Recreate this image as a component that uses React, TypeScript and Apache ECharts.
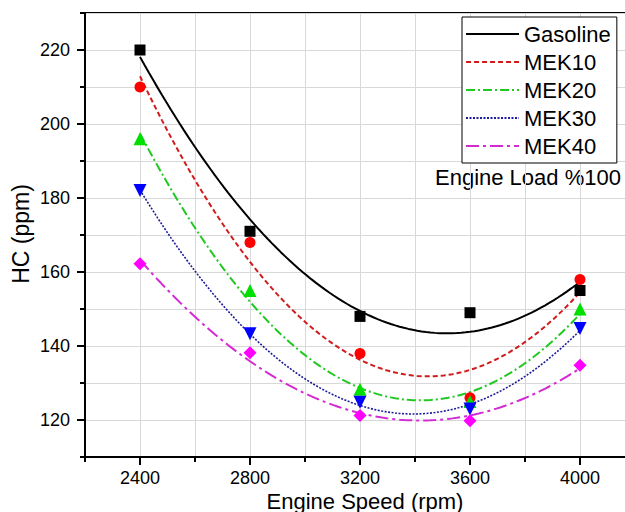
import React, { useEffect, useRef } from 'react';
import * as echarts from 'echarts';

const speeds = [2400, 2800, 3200, 3600, 4000];
const gasoline = [220, 171, 148, 149, 155];
const mek10 = [210, 168, 138, 126, 158];
const mek20 = [196, 155, 128.3, 125, 150];
const mek30 = [182, 143.3, 124.8, 123, 144.7];
const mek40 = [162.2, 138.2, 121.2, 119.8, 134.8];
const seriesNames = ['Gasoline', 'MEK10', 'MEK20', 'MEK30', 'MEK40'];
const seriesValues = [gasoline, mek10, mek20, mek30, mek40];
const xTickLabels = [2400, 2800, 3200, 3600, 4000];
const yTickLabels = [120, 140, 160, 180, 200, 220];
const X_MIN = 2200;
const X_MAX = 4200;
const Y_MIN = 110;
const Y_MAX = 230;

const lineColors = ['#000000', '#d01c1c', '#22c822', '#1c1c9c', '#d42ad4'];
const markerColors = ['#000000', '#ff0000', '#00e000', '#0000ff', '#ff00ff'];
const markerShapes = ['rect', 'circle', 'triangle', 'triangle', 'diamond'];
const markerRotate = [0, 0, 0, 180, 0];
const markerSizes = [11, 11, 13, 13, 13];
const dashTypes: any[] = ['solid', [5, 3], [9, 3, 2, 3], [2, 1.5], [13, 4, 3, 4]];
const lineWidths = [2, 2, 2, 1.6, 2];

const FONT = 'Arial, "Liberation Sans", sans-serif';

// quadratic least-squares fit (as in the original figure's fitted curves)
function quadFit(xs: number[], ys: number[]) {
  const x0 = 3200;
  const s = 400;
  let n = 0, st = 0, st2 = 0, st3 = 0, st4 = 0, sy = 0, sty = 0, st2y = 0;
  xs.forEach((x, i) => {
    const t = (x - x0) / s;
    const y = ys[i];
    n += 1; st += t; st2 += t * t; st3 += t * t * t; st4 += t * t * t * t;
    sy += y; sty += t * y; st2y += t * t * y;
  });
  const A = [
    [n, st, st2, sy],
    [st, st2, st3, sty],
    [st2, st3, st4, st2y],
  ];
  for (let i = 0; i < 3; i++) {
    let p = i;
    for (let r = i + 1; r < 3; r++) if (Math.abs(A[r][i]) > Math.abs(A[p][i])) p = r;
    [A[i], A[p]] = [A[p], A[i]];
    for (let r = 0; r < 3; r++) {
      if (r === i) continue;
      const f = A[r][i] / A[i][i];
      for (let c = i; c < 4; c++) A[r][c] -= f * A[i][c];
    }
  }
  const a = A[0][3] / A[0][0];
  const b = A[1][3] / A[1][1];
  const c = A[2][3] / A[2][2];
  return (x: number) => {
    const t = (x - x0) / s;
    return a + b * t + c * t * t;
  };
}

function fitCurve(ys: number[]) {
  const f = quadFit(speeds, ys);
  const pts: number[][] = [];
  const lo = speeds[0];
  const hi = speeds[speeds.length - 1];
  const steps = 100;
  for (let i = 0; i <= steps; i++) {
    const x = lo + ((hi - lo) * i) / steps;
    pts.push([x, f(x)]);
  }
  return pts;
}

export default function App() {
  const ref = useRef<HTMLDivElement>(null);
  useEffect(() => {
    if (!ref.current) return;
    const chart = echarts.init(ref.current, undefined, { renderer: 'svg' });

    const lineSeries = seriesNames.map((name, i) => ({
      name,
      type: 'line',
      data: fitCurve(seriesValues[i]),
      symbol: 'none',
      smooth: false,
      lineStyle: { color: lineColors[i], width: lineWidths[i], type: dashTypes[i] },
      itemStyle: { color: lineColors[i] },
      z: 3,
      silent: true,
    }));

    const scatterSeries = seriesNames.map((name, i) => ({
      name: name + ' data',
      type: 'scatter',
      data: speeds.map((x, j) => [x, seriesValues[i][j]]),
      symbol: markerShapes[i],
      symbolRotate: markerRotate[i],
      symbolSize: markerSizes[i],
      itemStyle: { color: markerColors[i], opacity: 1 },
      z: 5,
      silent: true,
    }));

    const xMajorTicks = {
      type: 'custom',
      coordinateSystem: 'cartesian2d',
      clip: false,
      silent: true,
      z: 6,
      data: xTickLabels.map((v) => [v, Y_MIN]),
      renderItem: (params: any, api: any) => {
        const p = api.coord([api.value(0), api.value(1)]);
        return {
          type: 'line',
          shape: { x1: p[0], y1: p[1], x2: p[0], y2: p[1] + 8 },
          style: { stroke: '#000', lineWidth: 2 },
        };
      },
    };
    const yMajorTicks = {
      type: 'custom',
      coordinateSystem: 'cartesian2d',
      clip: false,
      silent: true,
      z: 6,
      data: yTickLabels.map((v) => [X_MIN, v]),
      renderItem: (params: any, api: any) => {
        const p = api.coord([api.value(0), api.value(1)]);
        return {
          type: 'line',
          shape: { x1: p[0] - 8, y1: p[1], x2: p[0], y2: p[1] },
          style: { stroke: '#000', lineWidth: 2 },
        };
      },
    };

    chart.setOption({
      animation: false,
      backgroundColor: '#ffffff',
      grid: {
        left: 85,
        top: 13,
        width: 550,
        height: 444,
        show: true,
        borderColor: '#000',
        borderWidth: 2,
        backgroundColor: '#ffffff',
        outerBoundsMode: 'none',
        containLabel: false,
      },
      xAxis: {
        type: 'value',
        min: X_MIN,
        max: X_MAX,
        interval: 200,
        axisLine: { show: true, onZero: false, lineStyle: { color: '#000', width: 2 } },
        axisTick: { show: true, length: 5, lineStyle: { color: '#000', width: 2 } },
        axisLabel: {
          margin: 12,
          fontSize: 18,
          color: '#000',
          fontFamily: FONT,
          formatter: (v: number) => (xTickLabels.includes(v) ? String(v) : ''),
        },
        splitLine: { show: true, lineStyle: { color: '#d8d8d8', width: 1 } },
      },
      yAxis: {
        type: 'value',
        min: Y_MIN,
        max: Y_MAX,
        interval: 10,
        axisLine: { show: true, onZero: false, lineStyle: { color: '#000', width: 2 } },
        axisTick: { show: true, length: 5, lineStyle: { color: '#000', width: 2 } },
        axisLabel: {
          margin: 15,
          fontSize: 18,
          color: '#000',
          fontFamily: FONT,
          formatter: (v: number) => (yTickLabels.includes(v) ? String(v) : ''),
        },
        splitLine: { show: true, lineStyle: { color: '#d8d8d8', width: 1 } },
      },
      legend: {
        data: seriesNames,
        orient: 'vertical',
        left: 462,
        top: 17,
        itemWidth: 53,
        itemHeight: 14,
        itemGap: 4,
        padding: [5, 6, 5, 3],
        borderColor: '#000',
        borderWidth: 1,
        backgroundColor: '#ffffff',
        selectedMode: false,
        itemStyle: { opacity: 0, borderWidth: 0 },
        textStyle: { fontSize: 22, color: '#000', fontFamily: FONT, lineHeight: 24 },
      },
      graphic: [
        {
          type: 'text',
          x: 435,
          y: 177,
          style: {
            text: 'Engine Load %100',
            fontSize: 22,
            fill: '#000',
            fontFamily: FONT,
            verticalAlign: 'middle',
          },
        },
        {
          type: 'text',
          x: 21,
          y: 234,
          rotation: Math.PI / 2,
          style: {
            text: 'HC (ppm)',
            fontSize: 23,
            fill: '#000',
            fontFamily: FONT,
            align: 'center',
            verticalAlign: 'middle',
          },
        },
        {
          type: 'text',
          x: 365,
          y: 501,
          style: {
            text: 'Engine Speed (rpm)',
            fontSize: 22,
            fill: '#000',
            fontFamily: FONT,
            align: 'center',
            verticalAlign: 'middle',
          },
        },
      ],
      series: [...lineSeries, ...scatterSeries, xMajorTicks, yMajorTicks],
    });
    return () => chart.dispose();
  }, []);
  return (
    <div
      ref={ref}
      style={{ position: 'absolute', left: 0, top: 0, width: 625, height: 512, overflow: 'hidden' }}
    />
  );
}
